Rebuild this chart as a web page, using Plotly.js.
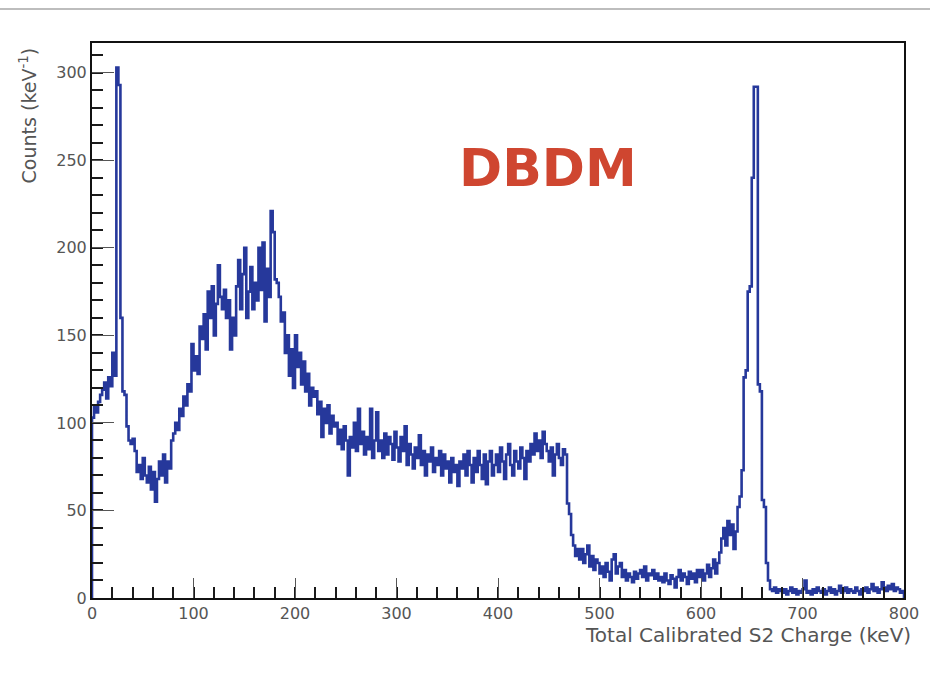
<!DOCTYPE html>
<html>
<head>
<meta charset="utf-8">
<script src="https://cdn.plot.ly/plotly-3.0.1.min.js"></script>
<style>
  html, body { margin: 0; padding: 0; background: #ffffff; }
  #chart { width: 930px; height: 677px; }
</style>
</head>
<body>
<div id="chart"></div>
<script>
// Total calibrated S2 charge spectrum, 2 keV bins from 0 to 800 keV
const binWidth = 2; // keV

const counts_0_80 = [
  103,110,106,112,116,119,123,114,126,121,140,127,303,293,160,118,116,98,90,88,
  91,84,72,76,68,80,70,66,75,62,72,55,68,78,70,82,66,78,74,90
];
const counts_80_160 = [
  94,100,96,108,104,115,110,122,118,145,130,138,128,155,148,162,142,175,160,178,
  150,168,190,172,165,176,160,170,142,160,150,178,193,165,185,200,160,175,189,165
];
const counts_160_240 = [
  180,170,200,176,203,158,188,172,221,209,182,180,172,158,163,140,150,127,142,120,
  150,132,140,122,135,118,128,110,120,115,118,105,112,92,108,100,110,94,104,98
];
const counts_240_320 = [
  100,88,96,85,98,90,70,92,86,100,84,108,88,95,82,92,85,108,80,90,
  106,84,90,80,94,82,92,88,79,95,86,78,92,84,98,76,88,82,74,86
];
const counts_320_400 = [
  80,93,76,84,70,82,78,86,72,80,76,84,70,82,74,78,66,80,72,76,
  64,78,74,82,70,84,76,66,80,72,84,76,68,82,65,78,84,70,76,82
];
const counts_400_480 = [
  72,86,78,68,82,88,76,70,84,78,74,86,80,68,84,78,88,82,94,84,
  90,80,95,88,84,78,86,70,82,88,80,76,85,82,54,48,36,30,24,28
];
const counts_480_560 = [
  22,28,20,25,30,18,24,16,22,20,14,18,12,20,15,10,22,25,14,18,
  20,12,16,10,14,12,9,15,11,14,16,12,18,10,14,13,16,11,14,10
];
const counts_560_640 = [
  12,9,14,10,8,13,11,6,12,16,10,14,12,8,15,11,14,9,16,12,
  16,10,14,19,12,17,22,14,20,26,34,40,30,44,36,42,28,38,52,58
];
const counts_640_720 = [
  73,126,130,175,178,240,292,292,122,118,56,52,20,10,5,4,6,3,5,4,
  3,5,2,4,6,3,5,2,4,3,5,10,3,4,2,5,3,6,4,3
];
const counts_720_800 = [
  5,2,4,6,3,5,2,4,7,3,4,6,3,5,4,3,6,4,2,5,
  4,6,3,5,8,4,6,3,5,9,6,4,7,5,8,4,6,5,3,4
];

const xTickLabels = ['0','100','200','300','400','500','600','700','800'];
const yTickLabels = ['0','50','100','150','200','250','300'];

const counts = [].concat(
  counts_0_80, counts_80_160, counts_160_240, counts_240_320, counts_320_400,
  counts_400_480, counts_480_560, counts_560_640, counts_640_720, counts_720_800
);

// Step outline: rises from the baseline at the low edge, drops back at the high edge
const xs = [0], ys = [0];
counts.forEach((c, i) => { xs.push(i * binWidth); ys.push(c); });
const xMax = counts.length * binWidth;
xs.push(xMax); ys.push(counts[counts.length - 1]);
xs.push(xMax); ys.push(0);

const tickFont = { family: 'DejaVu Sans, Arial, sans-serif', size: 16, color: '#555555' };

const trace = {
  type: 'scatter',
  mode: 'lines',
  x: xs,
  y: ys,
  line: { shape: 'hv', color: '#26389b', width: 2.6 },
  hoverinfo: 'skip',
  showlegend: false
};

const layout = {
  width: 930,
  height: 677,
  margin: { l: 92, r: 26, t: 43, b: 79 },
  paper_bgcolor: '#ffffff',
  plot_bgcolor: '#ffffff',
  showlegend: false,
  xaxis: {
    range: [0, 800],
    tickmode: 'array',
    tickvals: xTickLabels.map(Number),
    ticktext: xTickLabels,
    ticks: 'inside',
    ticklen: 20,
    tickwidth: 1,
    tickcolor: '#555555',
    minor: { dtick: 20, tick0: 0, ticks: 'inside', ticklen: 11, tickwidth: 2, tickcolor: '#1a1a1a', showgrid: false },
    showgrid: false,
    zeroline: false,
    showline: true,
    linecolor: '#111111',
    linewidth: 2,
    mirror: true,
    tickfont: tickFont
  },
  yaxis: {
    range: [0, 317],
    tickmode: 'array',
    tickvals: yTickLabels.map(Number),
    ticktext: yTickLabels,
    ticks: 'inside',
    ticklen: 22,
    tickwidth: 1,
    tickcolor: '#555555',
    minor: { dtick: 10, tick0: 0, ticks: 'inside', ticklen: 11, tickwidth: 2, tickcolor: '#1a1a1a', showgrid: false },
    showgrid: false,
    zeroline: false,
    showline: true,
    linecolor: '#111111',
    linewidth: 2,
    mirror: true,
    tickfont: tickFont
  },
  shapes: [
    {
      type: 'line', xref: 'paper', yref: 'paper',
      x0: -0.12, x1: 1.04, y0: 1.0613, y1: 1.0613,
      line: { color: '#bdbdbd', width: 2 }
    }
  ],
  annotations: [
    {
      text: 'DBDM',
      xref: 'paper', yref: 'paper',
      x: 0.5616, y: 0.7748, xanchor: 'center', yanchor: 'middle',
      showarrow: false,
      font: { family: 'DejaVu Sans, Arial, sans-serif', size: 52, color: '#cf4630', weight: 'bold' }
    },
    {
      text: 'Total Calibrated S2 Charge (keV)',
      xref: 'paper', yref: 'paper',
      x: 1.011, y: -0.0667, xanchor: 'right', yanchor: 'middle',
      showarrow: false,
      font: { family: 'DejaVu Sans, Arial, sans-serif', size: 20, color: '#555555' }
    },
    {
      text: 'Counts (keV<sup>-1</sup>)',
      xref: 'paper', yref: 'paper',
      x: -0.0788, y: 0.993, xanchor: 'center', yanchor: 'top',
      textangle: -90,
      showarrow: false,
      font: { family: 'DejaVu Sans, Arial, sans-serif', size: 19, color: '#555555' }
    }
  ]
};

Plotly.newPlot('chart', [trace], layout, { staticPlot: true, displayModeBar: false });
</script>
</body>
</html>
